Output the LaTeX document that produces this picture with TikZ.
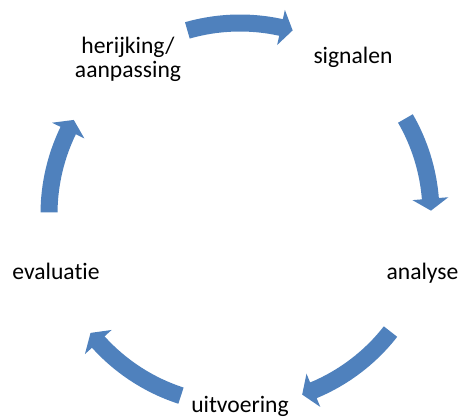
\documentclass[tikz,border=0pt]{standalone}
\usepackage{fontspec}
\setmainfont{Carlito}[Ligatures=NoCommon]
\definecolor{cycleblue}{RGB}{79,129,189}
\begin{document}
\begin{tikzpicture}[x=0.75pt,y=0.75pt,
  lbl/.style={anchor=base, inner sep=0pt, align=center, font=\fontsize{17.7}{19.5}\selectfont},
  cyc/.style={fill=cycleblue, draw=none}]
\useasboundingbox (0,0) rectangle (459,417);
\coordinate (c) at (240,203);
\node[lbl] (1) at (353,353) {signalen};
\node[lbl] (2) at (422.5,137) {analyse};
\node[lbl] (3) at (240,5) {uitvoering};
\node[lbl] (4) at (56,137) {evaluatie};
\node[lbl] (5) at (128,339) {herijking/\\[-1.5pt]aanpassing};

\begin{scope}[shift={(c)}]
\foreach \a/\b in {106/74, 30/1, -38/-71, 252/218.5, 179.5/150.5}{
  \pgfmathsetmacro{\m}{\b+3.6}
  \path[cyc] (\a:199.5) arc[start angle=\a, end angle=\m, radius=199.5]
    -- (\m:209) -- (\b:191) -- (\m:173) -- (\m:182.5)
    arc[start angle=\m, end angle=\a, radius=182.5] -- cycle;
}
\end{scope}
\end{tikzpicture}
\end{document}
